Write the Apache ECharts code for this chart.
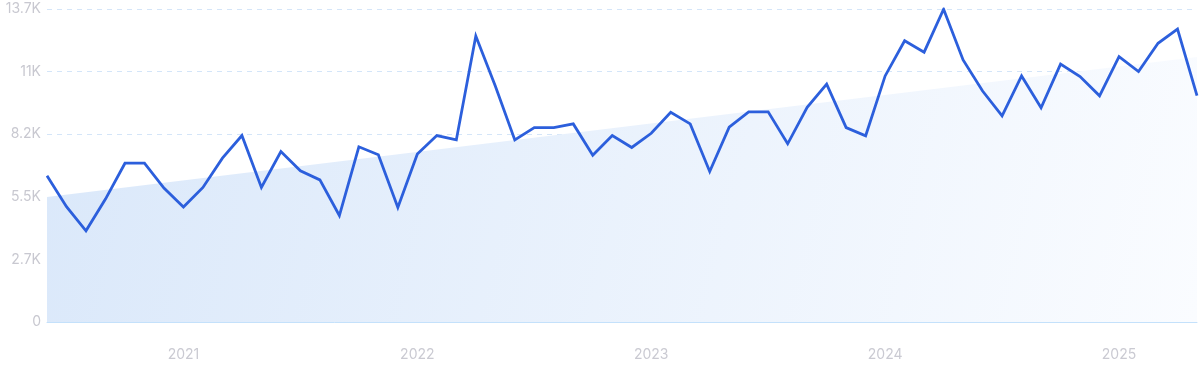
<!DOCTYPE html>
<html>
<head>
<meta charset="utf-8">
<script src="https://cdn.jsdelivr.net/npm/echarts@6/dist/echarts.min.js"></script>
<style>html,body{margin:0;padding:0;background:#fff}#c{width:1200px;height:371px}</style>
</head>
<body>
<div id="c"></div>
<script>
const months = [
 '2020-06','2020-07','2020-08','2020-09','2020-10','2020-11','2020-12',
 '2021-01','2021-02','2021-03','2021-04','2021-05','2021-06','2021-07','2021-08','2021-09','2021-10','2021-11','2021-12',
 '2022-01','2022-02','2022-03','2022-04','2022-05','2022-06','2022-07','2022-08','2022-09','2022-10','2022-11','2022-12',
 '2023-01','2023-02','2023-03','2023-04','2023-05','2023-06','2023-07','2023-08','2023-09','2023-10','2023-11','2023-12',
 '2024-01','2024-02','2024-03','2024-04','2024-05','2024-06','2024-07','2024-08','2024-09','2024-10','2024-11','2024-12',
 '2025-01','2025-02','2025-03','2025-04','2025-05'
];
const searches = [
 6400,5050,3990,5380,6950,6950,5860,
 5030,5890,7170,8160,5890,7460,6620,6220,4660,7670,7320,5010,
 7350,8160,7970,12520,10330,7970,8510,8510,8670,7300,8160,7640,
 8260,9180,8670,6590,8530,9200,9200,7800,9400,10410,8510,8150,
 10770,12310,11810,13690,11470,10110,9020,10770,9380,11290,10740,9900,
 11610,10960,12200,12820,9910
];
const trendStart = 5470;
const trendEnd = 11600;
const yTicks = [0, 2740, 5480, 8220, 10960, 13700];

const chart = echarts.init(document.getElementById('c'));
chart.setOption({
  animation: false,
  grid: {left: 47, right: 3, top: 9, bottom: 49, containLabel: false},
  xAxis: {
    type: 'category', data: months, boundaryGap: false,
    axisLine: {show: true, lineStyle: {color: '#c4e1fb', width: 1}},
    axisTick: {show: false},
    splitLine: {show: false},
    axisLabel: {
      interval: (i, v) => v.endsWith('-01'),
      formatter: v => v.slice(0, 4),
      color: '#cacad2', fontSize: 14, fontFamily: 'Inter, sans-serif', margin: 26
    }
  },
  yAxis: {
    type: 'value', min: yTicks[0], max: yTicks[yTicks.length - 1], interval: yTicks[1],
    axisLine: {show: false}, axisTick: {show: false},
    splitLine: {show: true, lineStyle: {color: '#d4e5f8', type: [5, 5], width: 1}},
    axisLabel: {
      formatter: v => v === 0 ? '0' : (v / 1000).toFixed(1).replace(/\.0$/, '') + 'K',
      color: '#c8c8d0', fontSize: 14, fontFamily: 'Inter, sans-serif', margin: 6
    }
  },
  series: [
    {
      type: 'line', data: [[months[0], trendStart], [months[months.length - 1], trendEnd]],
      symbol: 'none', lineStyle: {width: 0, opacity: 0}, silent: true, z: 1,
      areaStyle: {
        opacity: 1,
        color: new echarts.graphic.LinearGradient(0, 0, 1, 1, [
          {offset: 0, color: '#dae8fa'},
          {offset: 1, color: '#fafcff'}
        ])
      }
    },
    {
      type: 'line', data: searches, symbol: 'none', z: 3,
      lineStyle: {color: '#2c5fdc', width: 2.8, join: 'miter'}
    }
  ]
});
</script>
</body>
</html>
